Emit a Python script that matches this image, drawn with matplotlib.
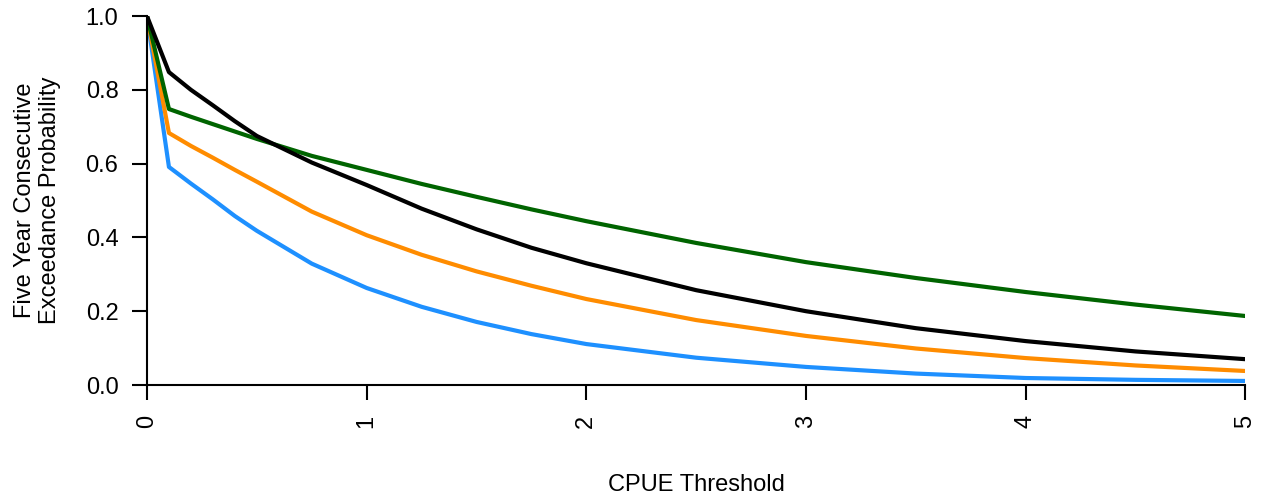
import numpy as np
import matplotlib.pyplot as plt

plt.rcParams['font.family'] = ['Liberation Sans', 'DejaVu Sans']

# CPUE thresholds and exceedance probabilities for each scenario
threshold = [0, 0.1, 0.2, 0.3, 0.4, 0.5, 0.75, 1.0, 1.25, 1.5, 1.75, 2.0,
             2.5, 3.0, 3.5, 4.0, 4.5, 5.0]

prob_black = [1.0, 0.848, 0.800, 0.758, 0.715, 0.675, 0.603, 0.542, 0.478,
              0.422, 0.372, 0.330, 0.257, 0.200, 0.154, 0.119, 0.091, 0.070]
prob_green = [1.0, 0.748, 0.727, 0.707, 0.687, 0.667, 0.621, 0.583, 0.545,
              0.510, 0.476, 0.444, 0.385, 0.333, 0.290, 0.252, 0.218, 0.187]
prob_orange = [1.0, 0.683, 0.648, 0.616, 0.583, 0.551, 0.470, 0.406, 0.353,
               0.308, 0.269, 0.233, 0.176, 0.133, 0.099, 0.073, 0.053, 0.038]
prob_blue = [1.0, 0.591, 0.546, 0.503, 0.458, 0.418, 0.329, 0.263, 0.212,
             0.171, 0.138, 0.111, 0.074, 0.049, 0.031, 0.019, 0.014, 0.011]

xticks = [0, 1, 2, 3, 4, 5]
yticks = [0.0, 0.2, 0.4, 0.6, 0.8, 1.0]

fig = plt.figure(figsize=(12.67, 5.01), dpi=100)
ax = fig.add_axes([0.116, 0.2315, 0.867, 0.7365])

ax.plot(threshold, prob_blue, color='#1E90FF', lw=3)
ax.plot(threshold, prob_orange, color='#FF8C00', lw=3)
ax.plot(threshold, prob_green, color='#006400', lw=3)
ax.plot(threshold, prob_black, color='black', lw=3)

ax.set_xlim(0, 5)
ax.set_ylim(0, 1)
ax.set_xticks(xticks)
ax.set_xticklabels([str(t) for t in xticks], rotation=90)
ax.set_yticks(yticks)
ax.set_yticklabels([f'{t:.1f}' for t in yticks])

for side in ('top', 'right'):
    ax.spines[side].set_visible(False)
for side in ('left', 'bottom'):
    ax.spines[side].set_linewidth(1.5)

ax.tick_params(axis='both', direction='out', length=10.5, width=1.5,
               labelsize=17, colors='black')
ax.tick_params(axis='y', pad=10)
ax.tick_params(axis='x', pad=11)

ax.set_xlabel('CPUE Threshold', fontsize=17, labelpad=33)
ax.set_ylabel('Five Year Consecutive\nExceedance Probability', fontsize=17,
              labelpad=18, linespacing=1.15)

fig.savefig('out.png', dpi=100)
